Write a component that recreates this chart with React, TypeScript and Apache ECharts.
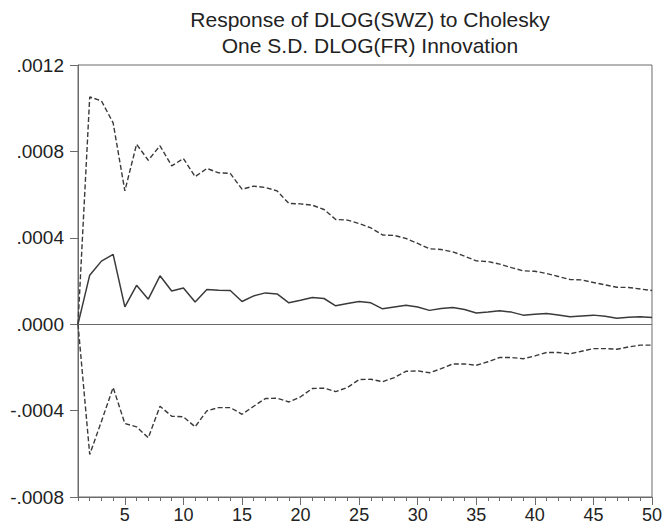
import React, { useEffect, useRef } from "react";
import * as echarts from "echarts";

// Forecast horizons 1..50
const periods: string[] = Array.from({ length: 50 }, (_, i) => String(i + 1));

// Impulse response of DLOG(SWZ) to a one S.D. DLOG(FR) shock
const response: number[] = [
  0, 0.000227, 0.000292, 0.000323, 0.00008, 0.00018, 0.000116, 0.000224, 0.000154, 0.000168,
  0.000103, 0.000161, 0.000157, 0.000156, 0.000105, 0.000131, 0.000145, 0.00014, 0.000099, 0.000111,
  0.000124, 0.000119, 0.000085, 0.000096, 0.000105, 0.000099, 0.000071, 0.00008, 0.000088, 0.00008,
  0.000064, 0.000073, 0.000077, 0.000068, 0.000052, 0.000056, 0.000062, 0.000056, 0.000042, 0.000046,
  0.00005, 0.000043, 0.000034, 0.000038, 0.000042, 0.000037, 0.000028, 0.000032, 0.000034, 0.000031,
];

// +2 S.E. band
const upperBand: number[] = [
  0, 0.001052, 0.001034, 0.000932, 0.000617, 0.000833, 0.000759, 0.000826, 0.000733, 0.000767,
  0.000683, 0.000721, 0.000701, 0.000698, 0.000625, 0.000639, 0.000633, 0.000617, 0.000559, 0.000557,
  0.000551, 0.000531, 0.000485, 0.000482, 0.000466, 0.000446, 0.000413, 0.000411, 0.000397, 0.000374,
  0.000349, 0.000346, 0.000335, 0.000315, 0.000293, 0.00029, 0.000278, 0.000262, 0.000247, 0.000245,
  0.000235, 0.000221, 0.000207, 0.000205, 0.000193, 0.000182, 0.000171, 0.00017, 0.000163, 0.000156,
];

// -2 S.E. band
const lowerBand: number[] = [
  0, -0.000603, -0.00045, -0.000293, -0.00046, -0.000475, -0.000526, -0.00038, -0.000426, -0.000429,
  -0.000475, -0.000401, -0.000386, -0.000386, -0.000417, -0.00038, -0.000344, -0.000343, -0.00036, -0.000336,
  -0.000298, -0.000296, -0.000312, -0.000293, -0.000256, -0.000255, -0.000266, -0.000247, -0.000218, -0.000216,
  -0.000225, -0.000206, -0.000184, -0.000184, -0.00019, -0.000174, -0.000154, -0.000154, -0.00016, -0.000147,
  -0.000131, -0.000131, -0.000137, -0.000125, -0.000113, -0.000113, -0.000116, -0.000105, -0.000097, -0.000097,
];

const titleLines: string[] = [
  "Response of DLOG(SWZ) to Cholesky",
  "One S.D. DLOG(FR) Innovation",
];

const AXIS = "#6b6b6b";
const LINE = "#3a3a3a";
const FONT = "'Liberation Sans', Arial, sans-serif";

const fmtY = (v: number) => {
  const s = (Math.round(v * 10000) / 10000).toFixed(4);
  return s.replace("0.", ".");
};

export default function App() {
  const ref = useRef<HTMLDivElement>(null);

  useEffect(() => {
    if (!ref.current) return;
    const chart = echarts.init(ref.current, undefined, { renderer: "svg" });
    const isMajor = (index: number) => (index + 1) % 5 === 0;

    chart.setOption({
      animation: false,
      backgroundColor: "#ffffff",
      title: {
        text: titleLines.join("\n"),
        left: 365,
        top: 1,
        textAlign: "center",
        textStyle: {
          fontFamily: FONT,
          fontSize: 21,
          fontWeight: "normal",
          color: "#222",
          lineHeight: 26,
        },
      },
      grid: {
        left: 78,
        right: 13,
        top: 65,
        bottom: 33,
        show: true,
        borderColor: AXIS,
        borderWidth: 1,
      },
      xAxis: [
        {
          type: "category",
          data: periods,
          boundaryGap: false,
          position: "bottom",
          axisLine: { show: true, onZero: false, lineStyle: { color: AXIS, width: 1 } },
          axisTick: { show: true, interval: 0, length: 4, lineStyle: { color: AXIS } },
          axisLabel: { show: false },
          splitLine: { show: false },
        },
        {
          type: "category",
          data: periods,
          boundaryGap: false,
          position: "bottom",
          axisLine: { show: false, onZero: false },
          axisTick: {
            show: true,
            interval: (index: number) => isMajor(index),
            length: 8,
            lineStyle: { color: AXIS },
          },
          axisLabel: {
            interval: (index: number) => isMajor(index),
            fontFamily: FONT,
            fontSize: 18,
            color: "#222",
            margin: 9,
          },
          splitLine: { show: false },
        },
      ],
      yAxis: {
        type: "value",
        min: -0.0008,
        max: 0.0012,
        interval: 0.0004,
        axisLine: { show: true, onZero: false, lineStyle: { color: AXIS } },
        axisTick: { show: true, length: 8, lineStyle: { color: AXIS } },
        axisLabel: {
          formatter: fmtY,
          fontFamily: FONT,
          fontSize: 19,
          color: "#222",
          margin: 14,
        },
        splitLine: { show: false },
      },
      series: [
        {
          type: "line",
          xAxisIndex: 0,
          data: upperBand,
          symbol: "none",
          lineStyle: { color: LINE, width: 1.4, type: [5, 2.5] },
        },
        {
          type: "line",
          xAxisIndex: 0,
          data: lowerBand,
          symbol: "none",
          lineStyle: { color: LINE, width: 1.4, type: [5, 2.5] },
        },
        {
          type: "line",
          xAxisIndex: 0,
          data: response,
          symbol: "none",
          lineStyle: { color: LINE, width: 1.5 },
          markLine: {
            silent: true,
            symbol: "none",
            label: { show: false },
            lineStyle: { color: AXIS, width: 1.2, type: "solid" },
            data: [{ yAxis: 0 }],
          },
        },
      ],
    });

    return () => chart.dispose();
  }, []);

  return (
    <div
      ref={ref}
      style={{ position: "fixed", left: 0, top: 0, width: 665, height: 530 }}
    />
  );
}
